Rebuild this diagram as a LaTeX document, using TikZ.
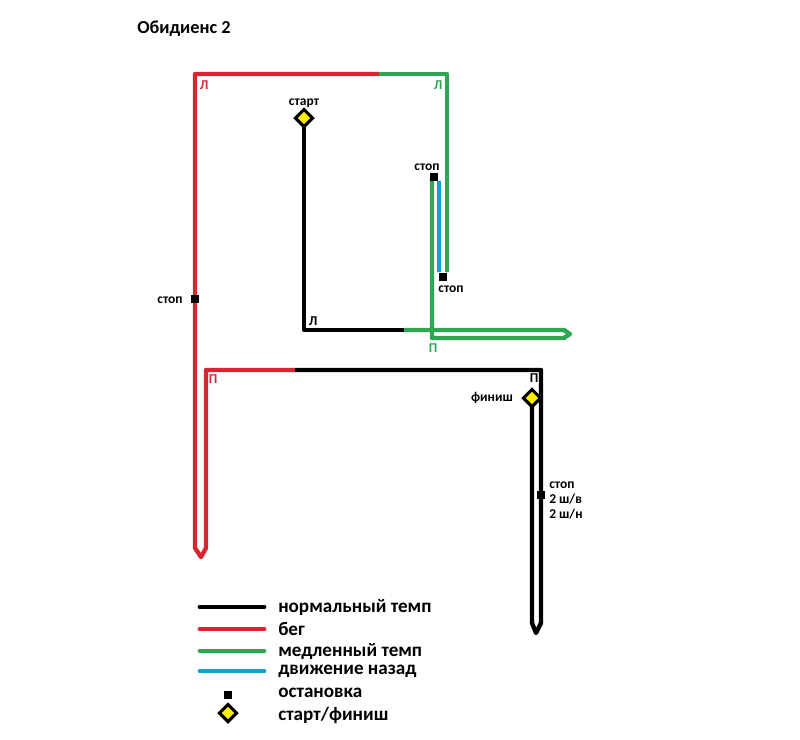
\documentclass[tikz,border=0pt]{standalone}
\usepackage{fontspec}
\setmainfont{Carlito}
\usetikzlibrary{shapes.geometric}
\definecolor{runred}{RGB}{214,38,50}
\definecolor{slowgreen}{RGB}{44,168,82}
\definecolor{backblue}{RGB}{24,156,214}
\definecolor{markyellow}{RGB}{255,238,0}

\tikzset{
  route/.style={line width=3.1pt, line join=round},
  stopmark/.style={fill=black, minimum size=0.2cm, inner sep=0pt},
  startmark/.style={diamond, draw=black, line width=2.2pt, fill=markyellow,
    minimum width=0.46cm, minimum height=0.46cm, inner sep=0pt},
  lbl/.style={font=\fontsize{9.6}{10.4}\selectfont\bfseries, inner sep=0pt},
  turn/.style={font=\fontsize{9.6}{10}\selectfont\bfseries, inner sep=0pt},
  legend/.style={font=\fontsize{13.6}{15}\selectfont\bfseries, anchor=west, inner sep=0pt},
}

\begin{document}
\begin{tikzpicture}[x=0.025cm, y=-0.025cm]
  \useasboundingbox (0,0) rectangle (800,739);
  \node[font=\fontsize{13}{15}\selectfont\bfseries, anchor=west, inner sep=0pt]
    (title) at (137,29) {Обидиенс 2};

  % points of the route
  \coordinate (start) at (304,118);
  \coordinate (turnA) at (304,330);
  \coordinate (slowA) at (404,330);
  \coordinate (tipA1) at (564,330);
  \coordinate (tipA) at (570,334);
  \coordinate (tipA2) at (564,338);
  \coordinate (turnB) at (432,338);
  \coordinate (stopA) at (432,178);
  \coordinate (backA) at (439,181);
  \coordinate (backB) at (439,272);
  \coordinate (stopB) at (447,272);
  \coordinate (turnC) at (447,74);
  \coordinate (runA) at (379,74);
  \coordinate (turnD) at (195,74);
  \coordinate (tipB1) at (195,548);
  \coordinate (tipB) at (201,557);
  \coordinate (tipB2) at (206,548);
  \coordinate (turnE) at (206,370);
  \coordinate (normA) at (295,370);
  \coordinate (turnF) at (541,370);
  \coordinate (tipC1) at (541,623);
  \coordinate (tipC) at (536,633);
  \coordinate (tipC2) at (532,623);
  \coordinate (finish) at (532,398);

  \draw[route] (start) -- (turnA) -- (slowA);
  \draw[route, slowgreen] (slowA) -- (tipA1) -- (tipA) -- (tipA2) -- (turnB) -- (stopA);
  \draw[route, backblue] (backA) -- (backB);
  \draw[route, slowgreen] (stopB) -- (turnC) -- (runA);
  \draw[route, runred] (runA) -- (turnD) -- (tipB1) -- (tipB) -- (tipB2) -- (turnE) -- (normA);
  \draw[route] (normA) -- (turnF) -- (tipC1) -- (tipC) -- (tipC2) -- (finish);

  % marks
  \node[startmark] (startmk) at (start) {};
  \node[startmark] (finishmk) at (finish) {};
  \node[stopmark] (stop1) at (434,177) {};
  \node[stopmark] (stop2) at (443,277) {};
  \node[stopmark] (stop3) at (195,299) {};
  \node[stopmark] (stop4) at (541,495) {};

  \node[lbl] (startlbl) at (304,103) {старт};
  \node[lbl] (finishlbl) at (492,398) {финиш};
  \node[lbl] (stop1lbl) at (427,167) {стоп};
  \node[lbl] (stop2lbl) at (451,289) {стоп};
  \node[lbl] (stop3lbl) at (170,300) {стоп};
  \node[lbl, align=left, anchor=north west] (stop4lbl) at (549,482) {стоп\\2 ш/в\\2 ш/н};

  \node[turn, runred] (turnDlbl) at (204,85) {Л};
  \node[turn, slowgreen] (turnClbl) at (438,85) {Л};
  \node[turn] (turnAlbl) at (313,321) {Л};
  \node[turn, slowgreen] (turnBlbl) at (433,348) {П};
  \node[turn, runred] (turnElbl) at (213,379) {П};
  \node[turn] (turnFlbl) at (534,378) {П};

  % legend
  \foreach[count=\i] \c/\t/\y in {black/нормальный темп/607, runred/бег/629,
      slowgreen/медленный темп/651, backblue/движение назад/671} {
    \coordinate (legA\i) at (200,\y);
    \coordinate (legB\i) at (264,\y);
    \draw[route, line width=3.5pt, line cap=round, \c] (legA\i) -- (legB\i);
    \node[legend] (leg\i) at (278,\y) {\t};
  };
  \node[stopmark] (legstop) at (228,695) {};
  \node[legend] (leg5) at (278,693) {остановка};
  \node[startmark] (legstart) at (228,713) {};
  \node[legend] (leg6) at (278,715) {старт/финиш};
\end{tikzpicture}
\end{document}
